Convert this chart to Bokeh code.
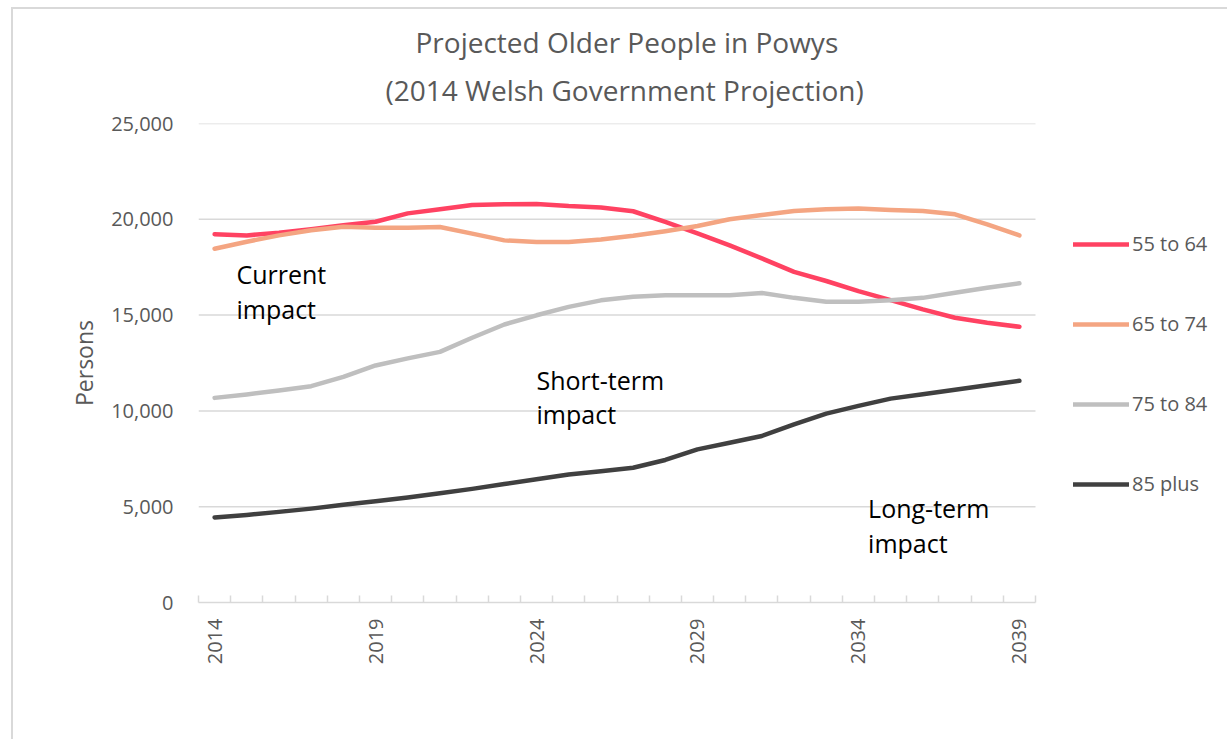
from bokeh.plotting import figure
from bokeh.models import (Range1d, FixedTicker, NumeralTickFormatter, Title, Label,
                          Legend, LegendItem, InlineStyleSheet)
from bokeh.embed import file_html
from bokeh.resources import INLINE
import math

years = list(range(2014, 2040))
age_55_64 = [19220, 19160, 19300, 19480, 19690, 19870, 20310, 20520, 20750, 20780, 20800, 20690, 20620,
             20420, 19860, 19270, 18640, 17960, 17260, 16780, 16250, 15780, 15300, 14860, 14600, 14390]
age_65_74 = [18460, 18830, 19160, 19430, 19610, 19560, 19560, 19600, 19250, 18900, 18810, 18810, 18950,
             19140, 19380, 19650, 20000, 20220, 20430, 20520, 20570, 20490, 20430, 20260, 19740, 19160]
age_75_84 = [10680, 10860, 11070, 11290, 11780, 12370, 12740, 13080, 13820, 14510, 14990, 15430, 15770,
             15960, 16030, 16030, 16040, 16150, 15900, 15700, 15700, 15770, 15900, 16170, 16430, 16660]
age_85_plus = [4440, 4570, 4730, 4900, 5100, 5280, 5480, 5700, 5930, 6180, 6430, 6680, 6850,
               7030, 7440, 7990, 8340, 8690, 9300, 9860, 10260, 10640, 10870, 11100, 11340, 11570]
series_names = ["55 to 64", "65 to 74", "75 to 84", "85 plus"]
series_colors = ["#FF4262", "#F4A582", "#BFBFBF", "#404040"]
label_years = [2014, 2019, 2024, 2029, 2034, 2039]
y_ticks = [0, 5000, 10000, 15000, 20000, 25000]
title_line1 = "Projected Older People in Powys"
title_line2 = "(2014 Welsh Government Projection)"
annotations = [("Current", "impact", 2014.68, 17170, 15340),
               ("Short-term", "impact", 2024.0, 11590, 9860),
               ("Long-term", "impact", 2034.3, 4910, 3080)]

FONT = "Open Sans"
GREY = "#595959"

X0, X1 = years[0] - 0.5, years[-1] + 0.5
PX_PER_YEAR = 837 / (X1 - X0)
X_VIEW_END = X0 + (1227 - 198) / PX_PER_YEAR   # frame runs on to the right edge to hold the legend

p = figure(width=1227, height=739, output_backend="svg", toolbar_location=None,
           x_range=Range1d(X0, X_VIEW_END), y_range=Range1d(0, 25000),
           min_border_left=198, min_border_right=0, min_border_top=123, min_border_bottom=137,
           title=None)
p.outline_line_color = None
p.background_fill_color = "white"
p.border_fill_color = "white"

# chart area border (CSS)
p.stylesheets = [InlineStyleSheet(css="""
:host { overflow: hidden; }
:host::after { content: ""; position: absolute; left: 11px; top: 7px;
  width: 1400px; height: 900px; border: 2px solid #D9D9D9; pointer-events: none; }
""")]

# titles
t2 = Title(text=title_line2, align="left", text_font=FONT, text_line_height=1.0,
           text_font_size="28px", text_font_style="normal", text_color=GREY, standoff=30, offset=187)
t1 = Title(text=title_line1, align="left", text_font=FONT, text_line_height=1.0,
           text_font_size="28px", text_font_style="normal", text_color=GREY, standoff=-14, offset=217)
p.add_layout(t2, "above")
p.add_layout(t1, "above")

# horizontal gridlines limited to the category span
p.segment(x0=X0, x1=X1, y0=y_ticks[1:], y1=y_ticks[1:], line_color="#D9D9D9", line_width=1.5)

# series
all_series = [age_55_64, age_65_74, age_75_84, age_85_plus]
items = []
for name, vals, col in zip(series_names, all_series, series_colors):
    r = p.line(years, vals, line_color=col, line_width=4.5, line_cap="round", line_join="round")
    items.append(LegendItem(label=name, renderers=[r]))

# axes
xa = p.xaxis[0]
xa.bounds = (X0, X1)
xa.ticker = FixedTicker(ticks=label_years, minor_ticks=[y - 0.5 for y in years] + [X1])
xa.axis_line_color = "#D9D9D9"
xa.axis_line_width = 1.5
xa.major_tick_line_color = None
xa.minor_tick_line_color = "#D9D9D9"
xa.minor_tick_line_width = 1.5
xa.minor_tick_in = 7
xa.minor_tick_out = 0
xa.major_label_orientation = math.pi / 2
xa.major_label_standoff = 10
xa.major_label_text_font = FONT
xa.major_label_text_font_size = "20px"
xa.major_label_text_color = GREY

ya = p.yaxis[0]
ya.ticker = FixedTicker(ticks=y_ticks, minor_ticks=[])
ya.formatter = NumeralTickFormatter(format="0,0")
ya.axis_line_color = None
ya.major_tick_line_color = None
ya.minor_tick_line_color = None
ya.major_label_standoff = 19
ya.major_label_text_font = FONT
ya.major_label_text_font_size = "20px"
ya.major_label_text_color = GREY
ya.axis_label = "Persons"
ya.axis_label_text_font = FONT
ya.axis_label_text_font_size = "23px"
ya.axis_label_text_font_style = "normal"
ya.axis_label_text_color = GREY
ya.axis_label_standoff = 8

p.xgrid.grid_line_color = None
p.ygrid.grid_line_color = None

# legend
lg = Legend(items=items, location=(875, 105), orientation="vertical",
            glyph_width=56, glyph_height=20, label_height=20, spacing=53, padding=10, margin=0,
            label_standoff=3, border_line_color=None, background_fill_alpha=0,
            label_text_font=FONT, label_text_font_size="20px", label_text_color=GREY)
p.add_layout(lg, "center")

# text annotations
for l1, l2, x, y1, y2 in annotations:
    for txt, yy in ((l1, y1), (l2, y2)):
        p.add_layout(Label(x=x, y=yy, text=txt, text_baseline="alphabetic", text_align="left",
                           text_font=FONT, text_font_size="25px", text_color="black"))

open("out.html", "w").write(file_html(p, INLINE))
